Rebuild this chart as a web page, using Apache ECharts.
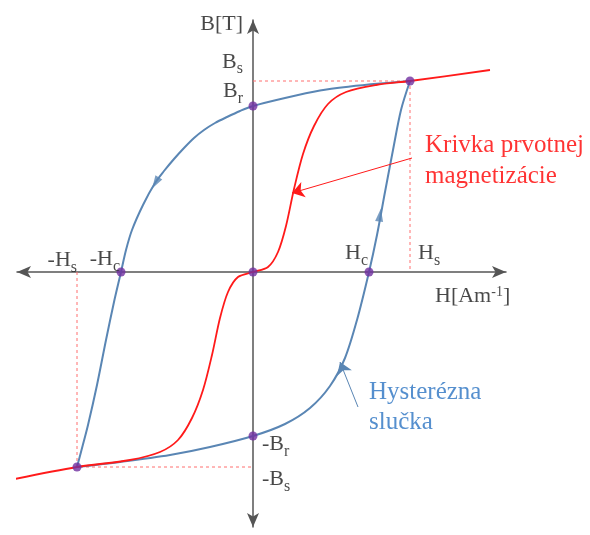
<!DOCTYPE html>
<html>
<head>
<meta charset="utf-8">
<script src="https://cdn.jsdelivr.net/npm/echarts@6/dist/echarts.min.js"></script>
<style>
html, body { margin: 0; padding: 0; background: #fff; }
#chart { width: 590px; height: 535px; }
</style>
</head>
<body>
<div id="chart"></div>
<script>
// Characteristic points of the loop: field strength H and flux density B (relative units)
const pointNames = ['Bs', 'Br', '-Hc', 'O', 'Hc', '-Br', '-Bs'];
const pointH = [1.57, 0, -1.32, 0, 1.16, 0, -1.76];
const pointB = [1.91, 1.66, 0, 0, 0, -1.64, -1.95];

// Descending branch of the hysteresis loop (+Bs -> Br -> -Hc -> -Bs)
const downH = [1.57, 1.27, 0.97, 0.67, 0.32, 0, -0.13, -0.26, -0.38, -0.49, -0.59, -0.69, -0.79, -0.89, -0.98, -1.10, -1.21, -1.27, -1.32, -1.39, -1.47, -1.56, -1.65, -1.72, -1.76];
const downB = [1.91, 1.885, 1.855, 1.815, 1.74, 1.66, 1.61, 1.55, 1.49, 1.42, 1.34, 1.24, 1.13, 1.01, 0.89, 0.67, 0.42, 0.22, 0, -0.30, -0.68, -1.13, -1.53, -1.80, -1.95];

// Ascending branch of the hysteresis loop (-Bs -> -Br -> Hc -> +Bs)
const upH = [-1.76, -1.33, -0.83, -0.43, 0, 0.32, 0.57, 0.77, 0.92, 1.04, 1.16, 1.24, 1.32, 1.40, 1.48, 1.57];
const upB = [-1.95, -1.90, -1.83, -1.75, -1.64, -1.52, -1.36, -1.14, -0.86, -0.48, 0, 0.37, 0.80, 1.22, 1.62, 1.91];

// Initial magnetization curve, extended past saturation on both sides
const magH = [-2.48, -1.76, -1.23, -0.93, -0.75, -0.61, -0.50, -0.41, -0.33, -0.25, -0.15, 0, 0.15, 0.25, 0.33, 0.41, 0.50, 0.61, 0.75, 0.93, 1.23, 1.57, 2.37];
const magB = [-2.09, -1.95, -1.88, -1.80, -1.68, -1.46, -1.18, -0.83, -0.46, -0.20, -0.05, 0, 0.05, 0.20, 0.46, 0.83, 1.18, 1.46, 1.68, 1.80, 1.87, 1.91, 2.02];

// Direction arrows placed on the loop: position and heading (degrees)
const arrowH = [-0.975, 1.27];
const arrowB = [0.89, 0.57];
const arrowRot = [149, -8];

// Axis and point labels: anchor (H, B), rich text, alignment
const labelText = ['{m|B[T]}', '{m|B}{s|s}', '{m|B}{s|r}', '{m|-H}{s|s}', '{m|-H}{s|c}', '{m|H}{s|c}', '{m|H}{s|s}', '{m|H[Am}{p|-1}{m|]}', '{m|-B}{s|r}', '{m|-B}{s|s}'];
const labelH = [-0.10, -0.10, -0.10, -1.76, -1.33, 0.92, 1.65, 1.82, 0.09, 0.09];
const labelB = [2.585, 2.21, 1.915, 0.225, 0.235, 0.295, 0.295, -0.135, -1.615, -1.965];
const labelAlign = ['right', 'right', 'right', 'right', 'right', 'left', 'left', 'left', 'left', 'left'];

// Callout texts with the start and tip of their pointers
const noteText = ['Krivka prvotnej\nmagnetizácie', 'Hysterézna\nslučka'];
const noteH = [1.72, 1.16];
const noteB = [1.425, -1.055];
const pointerFrom = [[1.59, 1.14], [1.05, -1.35]];
const pointerTo = [[0.39, 0.79], [0.87, -0.90]];

const zip = (a, b) => a.map((v, i) => [v, b[i]]);
const serif = 'Liberation Serif';

const BLUE = '#5a86b4';
const RED = '#ff1a1a';
const GUIDE = '#ff6f6f';
const DOT = '#7030a0';

// Dashed saturation guides: (0,Bs) -> (Hs,Bs) -> (Hs,0) and (-Hs,0) -> (-Hs,-Bs) -> (0,-Bs)
const iBs = pointNames.indexOf('Bs');
const iNBs = pointNames.indexOf('-Bs');
const guideTop = [[0, pointB[iBs]], [pointH[iBs], pointB[iBs]], [pointH[iBs], 0]];
const guideBottom = [[pointH[iNBs], 0], [pointH[iNBs], pointB[iNBs]], [0, pointB[iNBs]]];

const axisCommon = {
  type: 'value',
  axisLine: {
    onZero: true,
    symbol: ['arrow', 'arrow'],
    symbolSize: [9, 14],
    lineStyle: { color: '#555', width: 1.5 }
  },
  axisTick: { show: false },
  axisLabel: { show: false },
  splitLine: { show: false }
};

const richStyles = {
  m: { fontFamily: serif, fontSize: 22, lineHeight: 24, verticalAlign: 'top', color: '#1a1a1a' },
  s: { fontFamily: serif, fontSize: 16, lineHeight: 26, verticalAlign: 'bottom', color: '#1a1a1a' },
  p: { fontFamily: serif, fontSize: 14, lineHeight: 14, verticalAlign: 'top', color: '#1a1a1a' }
};

const guideSeries = data => ({
  type: 'line',
  data: data,
  silent: true,
  showSymbol: false,
  clip: false,
  z: 2,
  lineStyle: { color: GUIDE, width: 1, type: [3, 3] }
});

const chart = echarts.init(document.getElementById('chart'), null, { renderer: 'canvas' });
chart.setOption({
  animation: false,
  backgroundColor: '#fff',
  grid: { left: 17, right: 84, top: 20, bottom: 8, containLabel: false },
  xAxis: Object.assign({}, axisCommon, { min: -2.36, max: 2.53 }),
  yAxis: Object.assign({}, axisCommon, { min: -2.55, max: 2.52 }),
  series: [
    guideSeries(guideTop),
    guideSeries(guideBottom),
    {
      name: 'loop-down',
      type: 'line',
      data: zip(downH, downB),
      smooth: 0.3,
      showSymbol: false,
      clip: false,
      z: 3,
      lineStyle: { color: BLUE, width: 2 }
    },
    {
      name: 'loop-up',
      type: 'line',
      data: zip(upH, upB),
      smooth: 0.3,
      showSymbol: false,
      clip: false,
      z: 3,
      lineStyle: { color: BLUE, width: 2 }
    },
    {
      name: 'magnetization',
      type: 'line',
      data: zip(magH, magB),
      smooth: 0.3,
      showSymbol: false,
      clip: false,
      z: 4,
      lineStyle: { color: RED, width: 1.8 }
    },
    {
      name: 'loop-arrows',
      type: 'scatter',
      clip: false,
      z: 5,
      symbol: 'triangle',
      symbolSize: [8, 13],
      itemStyle: { color: BLUE },
      data: arrowH.map((h, i) => ({ value: [h, arrowB[i]], symbolRotate: arrowRot[i] }))
    },
    {
      name: 'pointers',
      type: 'lines',
      coordinateSystem: 'cartesian2d',
      silent: true,
      z: 5,
      symbol: ['none', 'arrow'],
      symbolSize: 12,
      data: [
        { coords: [pointerFrom[0], pointerTo[0]], lineStyle: { color: RED, width: 1, opacity: 1 } },
        { coords: [pointerFrom[1], pointerTo[1]], lineStyle: { color: BLUE, width: 1, opacity: 1 } }
      ]
    },
    {
      name: 'points',
      type: 'scatter',
      clip: false,
      z: 6,
      symbolSize: 9,
      itemStyle: { color: DOT },
      data: zip(pointH, pointB)
    },
    {
      name: 'labels',
      type: 'scatter',
      clip: false,
      silent: true,
      z: 7,
      symbolSize: 0,
      data: labelText.map((t, i) => ({
        value: [labelH[i], labelB[i]],
        label: {
          show: true,
          position: [0, 0],
          align: labelAlign[i],
          verticalAlign: 'top',
          formatter: t,
          rich: richStyles
        }
      }))
    },
    {
      name: 'notes',
      type: 'scatter',
      clip: false,
      silent: true,
      z: 7,
      symbolSize: 0,
      data: noteText.map((t, i) => ({
        value: [noteH[i], noteB[i]],
        label: {
          show: true,
          position: [0, 0],
          align: 'left',
          verticalAlign: 'top',
          formatter: t,
          fontFamily: serif,
          fontSize: 25,
          lineHeight: i === 0 ? 31 : 30,
          color: i === 0 ? '#ff0000' : '#2a73c2'
        }
      }))
    }
  ]
});
</script>
</body>
</html>
